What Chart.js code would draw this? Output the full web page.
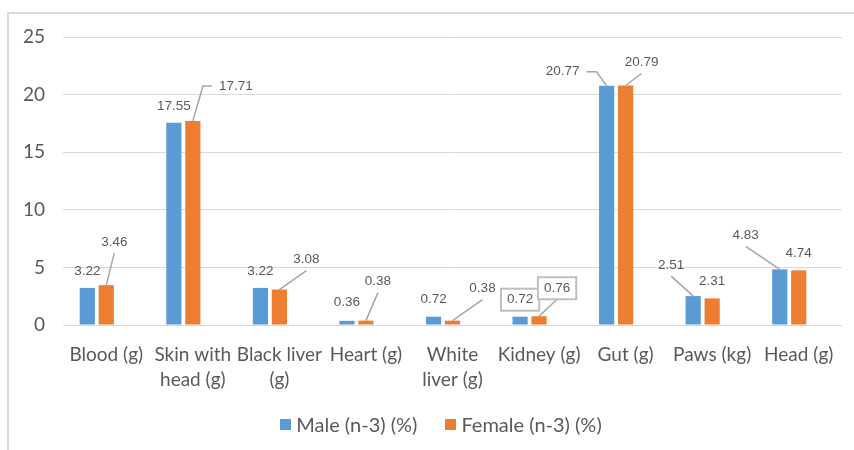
<!DOCTYPE html>
<html>
<head>
<meta charset="utf-8">
<script src="https://cdn.jsdelivr.net/npm/chart.js@4.4.1/dist/chart.umd.min.js"></script>
<style>
    html, body { margin: 0; padding: 0; background: #fff; }
    #wrap { position: relative; width: 854px; height: 450px; overflow: hidden; }
    #frame { position: absolute; left: 7px; top: 12px; width: 900px; height: 500px; border-left: 2px solid #d9d9d9; border-top: 2px solid #d9d9d9; }
    canvas { position: absolute; left: 0; top: 0; }
    #legend { position: absolute; left: 0; width: 882px; top: 412px; display: flex; justify-content: center; font: 20px Lato, "Open Sans", sans-serif; color: #595959; }
    #legend span.item { display: inline-flex; align-items: center; margin: 0 14px; }
    #legend span.box { display: inline-block; width: 11px; height: 11px; margin-right: 5px; }
</style>
</head>
<body>
<div id="wrap">
    <div id="frame"></div>
    <canvas id="chart" width="854" height="450"></canvas>
    <div id="legend"></div>
</div>
<script>
    const categories = [['Blood (g)'], ['Skin with', 'head (g)'], ['Black liver', '(g)'], ['Heart (g)'], ['White', 'liver (g)'], ['Kidney (g)'], ['Gut (g)'], ['Paws (kg)'], ['Head (g)']];
    const maleValues = [3.22, 17.55, 3.22, 0.36, 0.72, 0.72, 20.77, 2.51, 4.83];
    const femaleValues = [3.46, 17.71, 3.08, 0.38, 0.38, 0.76, 20.79, 2.31, 4.74];
    const yMin = 0, yMax = 25, yStep = 5;

    // where each value label sits relative to the top of its bar: [dx, dy, leader]
    // null = straight above the bar; leader 'b' = line to label bottom, 'l'/'r' = elbow to the side
    const maleLabelPos = [null, null, null, [0, -19], null, null, [-44, -14, 'r'], [-22, -31, 'b'], [-34, -34, 'b']];
    const femaleLabelPos = [[8, -43, 'b'], [43, -35, 'l'], [27, -30, 'b'], [12, -39, 'b'], [30, -32, 'b'], [18, -28, 'b'], [16, -23, 'b'], null, null];
    const boxedLabels = [[5], [5]]; // kidney labels have a frame

    const textColor = '#595959';
    const axisFont = { family: 'Lato, "Open Sans", sans-serif', size: 19 };

    const labelPlugin = {
        id: 'barLabels',
        afterDatasetsDraw(chart) {
            const ctx = chart.ctx;
            ctx.save();
            ctx.font = '13.5px "Liberation Sans", Arial, sans-serif';
            ctx.textAlign = 'center';
            ctx.textBaseline = 'middle';
            [maleLabelPos, femaleLabelPos].forEach((posList, di) => {
                const meta = chart.getDatasetMeta(di);
                meta.data.forEach((bar, j) => {
                    const value = chart.data.datasets[di].data[j];
                    const pos = posList[j] || [0, -17];
                    const cx = bar.x + pos[0];
                    const cy = bar.y + pos[1];
                    const text = value.toFixed(2);
                    const w = ctx.measureText(text).width;

                    if (pos[2]) {
                        ctx.strokeStyle = '#a6a6a6';
                        ctx.lineWidth = 1.5;
                        ctx.beginPath();
                        ctx.moveTo(bar.x, bar.y);
                        if (pos[2] === 'b') {
                            ctx.lineTo(cx, cy + 11);
                        } else if (pos[2] === 'r') {
                            const side = cx + w / 2 + 7;
                            ctx.lineTo(side + 10, cy);
                            ctx.lineTo(side, cy);
                        } else {
                            const side = cx - w / 2 - 7;
                            ctx.lineTo(side - 9, cy);
                            ctx.lineTo(side, cy);
                        }
                        ctx.stroke();
                    }
                    if (boxedLabels[di].includes(j)) {
                        ctx.strokeStyle = '#bfbfbf';
                        ctx.lineWidth = 2;
                        ctx.fillStyle = '#fff';
                        ctx.fillRect(cx - w / 2 - 6, cy - 11, w + 12, 22);
                        ctx.strokeRect(cx - w / 2 - 6, cy - 11, w + 12, 22);
                    }
                    ctx.fillStyle = textColor;
                    ctx.fillText(text, cx, cy);
                });
            });
            ctx.restore();
        }
    };

    const chart = new Chart(document.getElementById('chart'), {
        type: 'bar',
        data: {
            labels: categories,
            datasets: [
                { label: 'Male (n-3) (%)', data: maleValues, backgroundColor: '#5b9bd5' },
                { label: 'Female (n-3) (%)', data: femaleValues, backgroundColor: '#ed7d31' },
                // the original chart keeps an empty third slot in every group
                { label: '', data: [], backgroundColor: 'rgba(0,0,0,0)' }
            ]
        },
        options: {
            responsive: false,
            animation: false,
            layout: { padding: { left: 0, right: 12, top: 37, bottom: 0 } },
            datasets: { bar: { categoryPercentage: 0.658, barPercentage: 0.8 } },
            plugins: {
                legend: { display: false },
                tooltip: { enabled: false }
            },
            scales: {
                x: {
                    grid: { display: false },
                    border: { display: false },
                    ticks: { color: textColor, font: { ...axisFont, lineHeight: 1.3 }, padding: 10, maxRotation: 0, autoSkip: false },
                    afterFit: s => { s.height = 125; }
                },
                y: {
                    min: yMin,
                    max: yMax,
                    ticks: { stepSize: yStep, color: textColor, font: axisFont, padding: 18 },
                    grid: { color: '#d9d9d9', drawTicks: false },
                    border: { display: false },
                    afterFit: s => { s.width = 63; }
                }
            }
        },
        plugins: [labelPlugin]
    });

    // legend built from the datasets
    const legend = document.getElementById('legend');
    chart.data.datasets.filter(ds => ds.label).forEach(ds => {
        const item = document.createElement('span');
        item.className = 'item';
        const box = document.createElement('span');
        box.className = 'box';
        box.style.background = ds.backgroundColor;
        item.appendChild(box);
        item.appendChild(document.createTextNode(ds.label));
        legend.appendChild(item);
    });
</script>
</body>
</html>
